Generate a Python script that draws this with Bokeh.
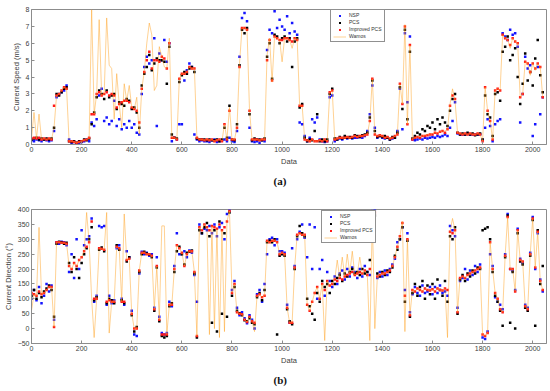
from bokeh.plotting import figure
from bokeh.models import Range1d, Legend, LegendItem, Title, FixedTicker, ColumnDataSource
from bokeh.layouts import column
from bokeh.embed import file_html
from bokeh.resources import INLINE

# sample index (every 10th record of the 2048-record series)
data_idx = list(range(0, 2041, 10))

x_ticks = [0, 200, 400, 600, 800, 1000, 1200, 1400, 1600, 1800, 2000]
spd_ticks = [0, 1, 2, 3, 4, 5, 6, 7, 8]
dir_ticks = [-50, 0, 50, 100, 150, 200, 250, 300, 350, 400]

# ---------------- (a) current speed (m/s) ----------------
wamos_spd = [
    0.35, 1.9, 0.35, 1.8, 0.3, 0.35, 0.3, 0.35, 0.3, 1.0,
    2.9, 3.0, 3.2, 3.4, 3.3, 0.2, 0.2, 0.15, 0.1, 0.15,
    0.2, 0.25, 0.3, 0.4, 8.0, 1.8, 3.0, 7.4, 2.9, 3.0,
    7.5, 4.7, 4.5, 1.5, 4.2, 2.4, 1.0, 3.6, 2.6, 3.5,
    2.2, 2.1, 2.8, 0.6, 3.3, 4.3, 6.0, 7.2, 6.5, 3.2,
    3.5, 5.8, 5.2, 4.6, 4.5, 6.3, 0.4, 0.4, 0.3, 3.9,
    4.2, 4.2, 4.3, 4.6, 4.5, 4.5, 0.4, 0.3, 0.3, 0.25,
    0.3, 0.25, 0.3, 0.2, 0.25, 0.3, 0.2, 1.2, 0.3, 2.2,
    0.3, 0.3, 1.0, 4.8, 6.9, 6.9, 6.8, 2.0, 0.3, 0.3,
    0.3, 0.25, 0.3, 0.3, 5.3, 6.3, 3.7, 6.4, 6.3, 6.2,
    4.9, 6.3, 6.3, 6.2, 5.7, 6.3, 6.3, 2.3, 2.3, 0.3,
    0.25, 0.2, 0.3, 0.2, 0.2, 0.25, 0.2, 0.3, 0.2, 3.1,
    3.2, 0.3, 0.35, 0.4, 0.4, 0.4, 0.45, 0.4, 0.45, 0.5,
    0.45, 0.5, 0.5, 0.55, 0.6, 1.4, 3.9, 0.6, 0.5, 0.55,
    0.5, 0.4, 0.45, 0.35, 0.4, 0.5, 0.6, 3.6, 2.4, 7.1,
    1.2, 5.9, 0.3, 0.4, 0.45, 0.5, 0.5, 0.55, 0.6, 0.6,
    0.65, 0.7, 0.7, 0.75, 0.8, 0.8, 0.9, 2.4, 3.3, 2.6,
    0.7, 0.65, 0.6, 0.65, 0.6, 0.65, 0.6, 0.6, 0.65, 0.6,
    0.2, 3.4, 2.0, 1.4, 0.3, 3.2, 3.3, 3.2, 6.5, 6.3,
    6.2, 5.7, 6.3, 6.1, 6.0, 2.8, 3.0, 4.9, 4.8, 4.1,
    4.8, 4.4, 4.8, 4.6, 2.8,
]
improved_spd = [
    0.35, 0.4, 0.35, 0.4, 0.3, 0.35, 0.3, 0.35, 0.3, 2.3,
    2.9, 3.0, 3.2, 3.4, 3.3, 0.2, 0.2, 0.15, 0.1, 0.15,
    0.2, 0.25, 0.3, 0.4, 1.8, 1.8, 3.0, 3.1, 2.9, 3.0,
    3.1, 2.9, 3.0, 2.9, 2.2, 2.4, 2.5, 2.6, 2.6, 2.5,
    2.2, 2.1, 2.0, 1.3, 3.3, 4.3, 5.0, 5.5, 4.5, 5.0,
    5.0, 4.9, 5.2, 5.1, 4.5, 6.0, 0.4, 0.4, 0.3, 3.9,
    4.2, 4.2, 4.3, 4.6, 4.5, 4.5, 0.4, 0.3, 0.3, 0.25,
    0.3, 0.25, 0.3, 0.2, 0.25, 0.3, 0.2, 1.2, 0.3, 2.0,
    0.3, 0.3, 1.0, 4.6, 6.9, 6.9, 6.8, 2.0, 0.3, 0.3,
    0.3, 0.25, 0.3, 0.3, 5.0, 6.2, 3.8, 6.4, 6.3, 6.2,
    6.2, 6.3, 6.3, 6.2, 6.1, 6.3, 6.2, 2.3, 2.3, 0.3,
    0.25, 0.2, 0.3, 0.2, 0.2, 0.25, 0.2, 0.3, 0.2, 3.1,
    3.2, 0.3, 0.35, 0.4, 0.4, 0.4, 0.45, 0.4, 0.45, 0.5,
    0.45, 0.5, 0.5, 0.55, 0.6, 1.4, 3.9, 0.6, 0.5, 0.55,
    0.5, 0.4, 0.45, 0.35, 0.4, 0.5, 0.6, 3.6, 2.4, 7.0,
    1.2, 5.9, 0.3, 0.4, 0.45, 0.4, 0.5, 0.5, 0.55, 0.6,
    0.6, 0.7, 0.65, 0.75, 0.8, 0.7, 0.9, 2.3, 2.9, 2.7,
    0.7, 0.65, 0.6, 0.65, 0.6, 0.65, 0.6, 0.6, 0.65, 0.6,
    0.2, 3.4, 2.0, 1.4, 0.3, 3.2, 3.3, 3.2, 6.5, 6.3,
    6.2, 5.9, 6.3, 6.1, 6.0, 2.8, 3.0, 4.9, 4.8, 4.3,
    4.8, 4.5, 4.8, 4.6, 2.8,
]
pcs_spd = [
    0.3, 0.35, 0.4, 0.3, 0.35, 0.3, 0.35, 0.3, 0.35, 1.0,
    3.0, 2.9, 3.1, 3.3, 3.4, 0.2, 0.15, 0.2, 0.1, 0.2,
    0.2, 0.3, 0.25, 0.35, 1.2, 1.9, 2.8, 3.2, 3.0, 2.7,
    3.2, 2.8, 2.9, 3.0, 2.1, 2.5, 2.4, 2.3, 2.7, 2.6,
    2.1, 2.2, 1.9, 1.0, 3.5, 4.2, 4.6, 5.3, 4.4, 4.8,
    5.1, 5.0, 5.0, 4.9, 3.6, 5.8, 0.6, 0.4, 0.35, 3.7,
    4.1, 4.3, 4.2, 4.5, 4.6, 4.3, 0.35, 0.3, 0.3, 0.3,
    0.25, 0.3, 0.25, 0.25, 0.3, 0.2, 0.3, 1.0, 0.4, 2.3,
    0.3, 0.25, 1.2, 4.7, 6.8, 6.6, 6.9, 1.8, 0.25, 0.35,
    0.3, 0.3, 0.25, 0.35, 5.2, 6.0, 3.9, 6.5, 6.4, 6.0,
    6.3, 6.4, 6.1, 6.3, 4.6, 6.1, 6.3, 2.2, 2.4, 0.4,
    0.2, 0.3, 0.25, 0.8, 1.8, 0.2, 0.3, 0.2, 0.3, 3.0,
    3.3, 0.35, 0.3, 0.45, 0.35, 0.5, 0.4, 0.45, 0.4, 0.55,
    0.5, 0.45, 0.55, 0.6, 0.7, 1.6, 3.8, 0.8, 0.45, 0.5,
    0.45, 0.5, 0.4, 0.3, 0.45, 0.4, 0.7, 3.4, 2.1, 6.8,
    1.5, 5.5, 0.35, 0.5, 0.7, 0.6, 0.9, 0.8, 1.1, 1.0,
    1.3, 0.9, 1.5, 1.2, 1.6, 1.3, 1.1, 2.0, 2.7, 3.0,
    0.7, 0.6, 0.65, 0.6, 0.7, 0.6, 0.65, 0.55, 0.6, 0.65,
    0.3, 2.9, 1.8, 1.6, 0.5, 3.0, 3.1, 2.6, 5.5, 5.8,
    6.4, 5.0, 5.3, 5.7, 4.0, 2.4, 3.6, 5.4, 3.8, 4.3,
    3.5, 5.1, 6.2, 4.1, 3.1,
]
nsp_spd = [
    0.25, 0.2, 0.3, 0.25, 0.2, 0.3, 0.25, 0.2, 0.25, 0.8,
    2.8, 3.0, 3.1, 3.2, 3.5, 0.3, 0.1, 0.15, 0.05, 0.1,
    0.15, 0.2, 0.3, 0.2, 1.3, 1.1, 1.5, 2.9, 3.3, 1.4,
    1.6, 1.2, 1.4, 2.6, 1.1, 1.5, 0.9, 1.2, 1.0, 1.4,
    1.0, 1.2, 0.7, 0.6, 3.0, 4.6, 5.2, 4.8, 5.0, 6.3,
    1.1, 5.4, 5.0, 6.2, 4.9, 6.0, 0.2, 0.4, 0.3, 1.2,
    1.2, 3.8, 4.4, 4.8, 4.6, 0.6, 0.3, 0.2, 0.25, 0.2,
    0.2, 0.15, 0.25, 0.3, 0.15, 0.2, 0.25, 0.3, 0.2, 0.4,
    0.2, 0.15, 0.8, 5.2, 7.5, 7.8, 7.3, 1.0, 0.2, 0.15,
    0.2, 0.1, 0.25, 0.2, 5.6, 6.8, 6.6, 7.9, 6.9, 7.4,
    7.0, 6.8, 7.6, 6.6, 7.2, 6.7, 6.5, 1.3, 1.2, 0.5,
    0.2, 0.4, 1.5, 1.3, 1.6, 0.3, 0.2, 0.15, 0.2, 2.8,
    2.9, 0.2, 0.3, 0.35, 0.3, 0.4, 0.35, 0.4, 0.35, 0.4,
    0.4, 0.45, 0.4, 0.5, 0.8, 1.8, 3.5, 1.0, 0.4, 0.5,
    0.4, 0.35, 0.4, 0.3, 0.35, 0.4, 0.8, 3.3, 0.9, 6.6,
    2.5, 6.4, 0.3, 0.25, 0.3, 0.35, 0.3, 0.4, 0.35, 0.4,
    0.45, 0.4, 0.5, 0.45, 0.5, 0.6, 0.5, 1.0, 1.4, 2.5,
    0.65, 0.6, 0.6, 0.6, 0.65, 0.6, 0.6, 0.6, 0.6, 0.6,
    0.3, 1.0, 1.5, 1.1, 0.2, 1.2, 1.4, 1.5, 6.6, 6.4,
    6.2, 6.8, 6.5, 6.6, 5.8, 1.3, 3.0, 5.2, 4.5, 4.7,
    0.5, 1.2, 4.6, 1.8, 2.8,
]

# ---------------- (b) current direction (deg) ----------------
wamos_dir = [
    60, 115, 110, 340, 115, 120, 130, 140, 140, 5,
    290, 290, 288, 288, 285, 210, 200, 220, 210, 230,
    240, 260, 390, 290, 100, -30, 100, 270, 268, 265,
    390, -15, 90, 90, 275, 270, 90, 385, 230, 235,
    50, 0, 0, 195, 255, 255, 250, 250, 245, 65,
    210, 30, 345, 345, -20, 80, 80, 200, 280, 270,
    255, 210, 250, 260, 260, 190, -25, 340, 330, 350,
    340, -20, 345, 0, 335, -30, 330, -10, 360, 395,
    120, 150, 55, 50, 48, 30, 22, 40, 25, -10,
    110, 115, 105, 110, 295, 290, 295, 295, 290, 250,
    255, 250, 70, 20, 20, 205, 315, 320, 315, 315,
    80, 60, 90, 120, 140, 100, 150, -40, 160, 145,
    150, 165, 230, 170, 240, 175, 250, 185, 260, 180,
    185, 240, 185, 195, 180, -40, 370, 0, 175, 180,
    185, 185, 190, 195, 210, 240, 275, 310, 360, -10,
    300, 45, 130, 125, 135, 130, 125, 135, 130, 128,
    132, 125, 135, 130, 128, 135, -30, 325, 370, 330,
    55, 170, 175, 170, 180, 185, 190, 195, 200, 205,
    -20, -25, -15, 290, 200, 120, 100, 65, 55, 245,
    375, 200, 200, 125, 330, 230, 225, 75, 65, 250,
    370, 205, 325, 160, 130,
]
improved_dir = [
    120, 115, 110, 125, 115, 120, 130, 140, 140, 5,
    290, 290, 288, 288, 285, 210, 200, 220, 210, 230,
    240, 260, 275, 290, 360, 100, 100, 270, 268, 265,
    90, 95, 90, 90, 275, 270, 90, 90, 230, 235,
    50, 0, 0, 195, 255, 255, 250, 250, 245, 65,
    210, 30, -20, -20, -20, 80, 80, 200, 280, 270,
    255, 210, 250, 260, 260, 190, -25, 340, 330, 350,
    340, 330, 345, 340, 335, 350, 330, 340, 360, 395,
    120, 150, 55, 50, 48, 30, 22, 40, 25, 20,
    110, 115, 105, 110, 295, 290, 295, 295, 290, 250,
    255, 250, 70, 20, 20, 205, 315, 320, 315, 315,
    80, 60, 90, 120, 140, 100, 150, 130, 160, 145,
    150, 165, 160, 170, 165, 175, 180, 185, 190, 180,
    185, 190, 185, 195, 180, 200, 370, 390, 175, 180,
    185, 185, 190, 195, 210, 240, 275, 310, 355, 110,
    300, 45, 130, 125, 135, 130, 125, 135, 130, 128,
    132, 125, 135, 130, 128, 135, 130, 325, 320, 330,
    55, 170, 175, 170, 180, 185, 190, 195, 200, 205,
    -20, -25, -15, 290, 200, 120, 100, 65, 55, 245,
    375, 200, 200, 125, 330, 230, 225, 75, 65, 250,
    370, 205, 325, 160, 130,
]
pcs_dir = [
    110, 130, 100, 120, 105, 125, 135, 145, 130, 40,
    285, 292, 290, 285, 288, 220, 190, 240, 200, 170,
    220, 250, 270, 300, 340, 95, 105, 265, 272, 260,
    85, 100, 95, 85, 280, 265, 95, 85, 225, 240,
    45, -10, 5, 190, 250, 258, 252, 248, 240, 60,
    205, 25, -25, -30, -25, 75, 85, 190, 260, 275,
    250, 215, 255, 258, 262, 185, -30, 330, 320, 340,
    355, 310, 20, 330, -10, 360, 50, 320, 40, 390,
    110, 140, 60, 52, 45, 28, 25, 35, 20, 15,
    105, 120, 95, 130, 290, 295, 290, 300, -20, 245,
    250, 245, 65, 25, 15, 200, 310, 345, 320, 310,
    100, 75, 50, 30, 120, 90, 160, 140, 150, 120,
    160, 150, 170, 180, 160, 185, 175, 190, 200, 185,
    190, 180, 200, 185, 190, 230, 360, 380, 185, 175,
    190, 180, 195, 190, 205, 245, 265, 300, 340, 90,
    295, 40, 120, 150, 110, 140, 160, 100, 145, 115,
    150, 100, 165, 130, 110, 160, 90, 310, 300, 340,
    50, 165, 180, 160, 185, 175, 195, 185, 205, 200,
    330, 335, 340, 300, 190, 110, 90, 60, 10, 240,
    380, 20, 190, 0, 320, 225, 215, 70, 60, 245,
    365, 10, 330, 150, 210,
]
nsp_dir = [
    100, 130, 95, 140, 85, 110, 150, 125, 145, 30,
    290, 285, 292, 290, 280, 190, 250, 170, 300, 200,
    330, 280, 300, 310, 370, 90, 110, 345, 340, 345,
    80, 110, 85, 95, 270, 280, 100, 80, 260, 240,
    60, -20, -25, 185, 258, 250, 255, 245, 250, 70,
    240, 40, -15, -20, -15, 90, 75, 210, 320, 250,
    250, 260, 240, 262, 255, 180, 90, 350, 320, 335,
    330, 345, 320, 350, 310, 340, 355, 300, 385, 400,
    130, 160, 70, 45, 55, 35, 18, 45, 30, 0,
    115, 130, 90, 150, 250, 300, 305, 280, 300, 260,
    260, 255, 80, 20, 270, 210, 300, 325, 350, 305,
    240, 350, 200, 340, 100, 200, 230, 110, 190, 160,
    140, 175, 150, 185, 195, 165, 200, 175, 205, 190,
    170, 200, 175, 210, 190, 180, 395, 400, 170, 190,
    175, 195, 180, 200, 215, 235, 290, 300, 340, 130,
    320, 55, 115, 140, 120, 110, 145, 120, 125, 140,
    115, 140, 120, 145, 120, 125, 110, 345, 330, 310,
    70, 160, 170, 200, 165, 195, 180, 210, 190, 215,
    -30, -35, -10, 250, 210, 105, 90, 80, 65, 250,
    385, 200, 195, 130, 335, 235, 220, 80, 70, 255,
    375, 200, 320, 165, 125,
]

FONT = "Liberation Sans"
AX_COL = "#8c8c8c"
TXT_COL = "#404040"


def panel(nsp, pcs, imp, wam, y0, y1, yticks, ylabel, tag, height,
          top_border, bottom_border, frame_h, legend_x, tag_standoff):
    src = ColumnDataSource(dict(x=data_idx, nsp=nsp, pcs=pcs, imp=imp, wam=wam))
    p = figure(width=550, height=height, output_backend="svg", toolbar_location=None,
               x_range=Range1d(0, 2055), y_range=Range1d(y0, y1),
               min_border_left=26, min_border_right=4,
               min_border_top=top_border, min_border_bottom=bottom_border)
    p.xgrid.visible = False
    p.ygrid.visible = False
    p.outline_line_color = AX_COL
    p.outline_line_width = 1
    p.background_fill_color = "white"
    p.border_fill_color = "white"

    r_n = p.scatter("x", "nsp", source=src, size=2.5, marker="square",
                    color="#1414ff", line_width=0)
    r_p = p.scatter("x", "pcs", source=src, size=2.5, marker="square",
                    color="#000000", line_width=0)
    r_i = p.scatter("x", "imp", source=src, size=2.5, marker="square",
                    color="#ff1a1a", line_width=0)
    r_w = p.line("x", "wam", source=src, line_color="#ffa01e", line_width=0.8,
                 line_alpha=0.6)

    for ax in (p.xaxis[0], p.yaxis[0]):
        ax.axis_line_color = AX_COL
        ax.major_tick_line_color = AX_COL
        ax.major_tick_in = 3
        ax.major_tick_out = 0
        ax.minor_tick_line_color = None
        ax.major_label_text_font = FONT
        ax.major_label_text_font_size = "7px"
        ax.major_label_text_color = TXT_COL
        ax.axis_label_text_font = FONT
        ax.axis_label_text_font_size = "7.5px"
        ax.axis_label_text_font_style = "normal"
        ax.axis_label_text_color = TXT_COL
        ax.major_label_standoff = 2
        ax.axis_label_standoff = 2
    p.xaxis[0].ticker = FixedTicker(ticks=x_ticks)
    p.yaxis[0].ticker = FixedTicker(ticks=yticks)
    p.xaxis[0].axis_label = "Data"
    p.yaxis[0].axis_label = ylabel

    legend = Legend(items=[
        LegendItem(label="NSP", renderers=[r_n]),
        LegendItem(label="PCS", renderers=[r_p]),
        LegendItem(label="Improved PCS", renderers=[r_i]),
        LegendItem(label="Wamos", renderers=[r_w]),
    ])
    legend.label_text_font = FONT
    legend.label_text_font_size = "5px"
    legend.label_text_color = "#333333"
    legend.label_height = 5
    legend.glyph_height = 5
    legend.glyph_width = 13
    legend.label_standoff = 3
    legend.spacing = 1
    legend.padding = 2
    legend.margin = 0
    legend.border_line_color = "#222222"
    legend.border_line_width = 0.6
    legend.background_fill_alpha = 1
    legend.location = (legend_x, frame_h - 34)
    p.add_layout(legend)

    t = Title(text=tag, align="left", offset=242, text_font="Liberation Serif",
              text_font_size="11px", text_font_style="bold", text_color="#111111",
              standoff=tag_standoff)
    p.add_layout(t, "below")
    return p


# panel (a): frame 136 px tall, panel (b): frame 134 px tall
p1 = panel(nsp_spd, pcs_spd, improved_spd, wamos_spd, 0, 8, spd_ticks,
           "Current Speed (m/s)", "(a)", 190, 9, 45, 136, 299, 8)
p2 = panel(nsp_dir, pcs_dir, improved_dir, wamos_dir, -50, 400, dir_ticks,
           "Current Direction (°)", "(b)", 201, 19, 48, 134, 290, 8)

layout = column(p1, p2, spacing=0)
open("out.html", "w").write(file_html(layout, INLINE))
